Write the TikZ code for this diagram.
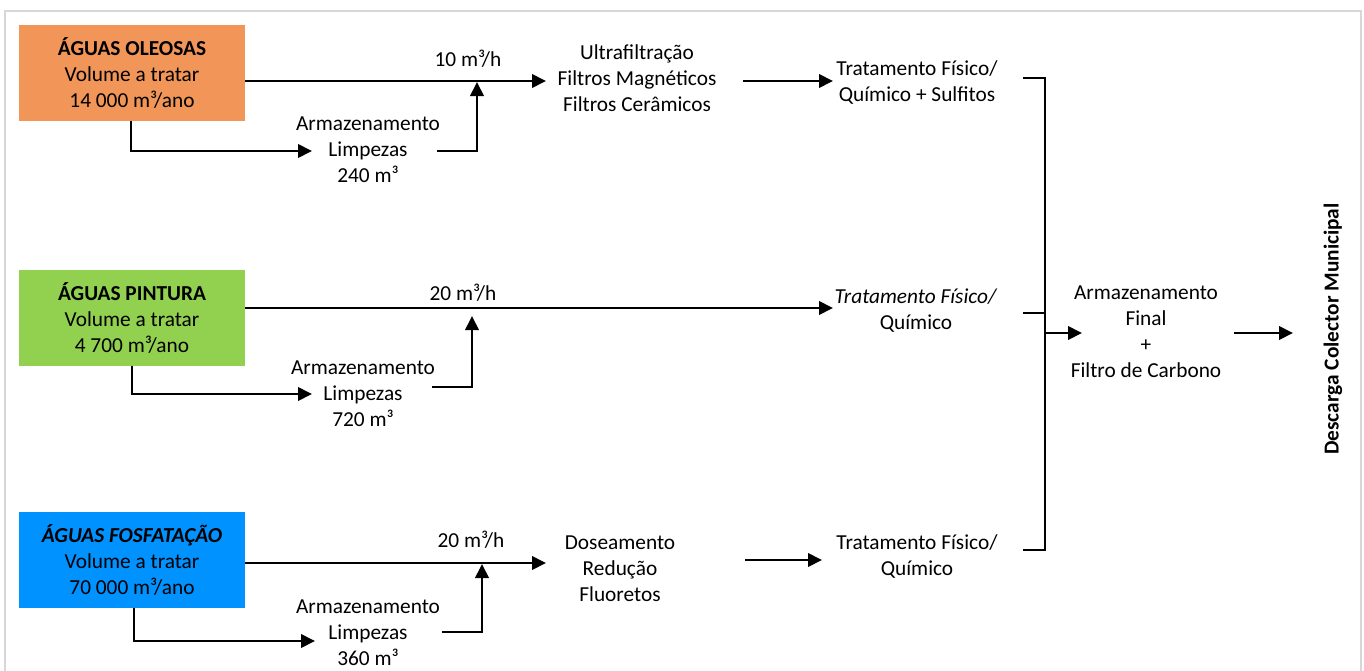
\documentclass[tikz,border=0pt]{standalone}
\usepackage{fontspec}
\setmainfont{Carlito}
\usetikzlibrary{arrows.meta}
\definecolor{oilC}{RGB}{241,150,88}
\definecolor{paintC}{RGB}{146,208,80}
\definecolor{phosC}{RGB}{0,146,255}
\definecolor{frameC}{RGB}{215,215,215}
\begin{document}
\begin{tikzpicture}[x=0.75pt,y=-0.75pt,
  every node/.style={font=\fontsize{16}{19.5}\selectfont, inner sep=0pt, align=center},
  src/.style={minimum width=169.5pt, minimum height=72pt},
  flow/.style={line width=2pt, -{Triangle[length=10.5pt,width=10pt]}},
  plain/.style={line width=2pt},
  frame/.style={draw=frameC, line width=2pt}]
\useasboundingbox (0,0) rectangle (1364,671);
\draw[frame] (5,680) -- (5,11) -- (1361,11) -- (1361,680);

% ---------- sources ----------
\node[src, fill=oilC] (o1) at (132,73) {\textbf{ÁGUAS OLEOSAS}\\Volume a tratar\\14 000 m³/ano};
\node[src, fill=paintC] (o2) at (132,317.5) {\textbf{ÁGUAS PINTURA}\\Volume a tratar\\4 700 m³/ano};
\node[src, fill=phosC] (o3) at (132,560) {\textbf{\textit{ÁGUAS FOSFATAÇÃO}}\\Volume a tratar\\70 000 m³/ano};

% ---------- text nodes ----------
\node (r1) at (468,59) {10 m³/h};
\node (r2) at (463,293) {20 m³/h};
\node (r3) at (471,540) {20 m³/h};
\node (s1) at (368,150) {Armazenamento\\Limpezas\\240 m³};
\node (s2) at (363,394) {Armazenamento\\Limpezas\\720 m³};
\node (s3) at (368,633) {Armazenamento\\Limpezas\\360 m³};
\node (uf) at (637,78) {Ultrafiltração\\Filtros Magnéticos\\Filtros Cerâmicos};
\node (ds) at (620,569) {Doseamento\\Redução\\Fluoretos};
\node (t1) at (917,83) {Tratamento Físico/\\Químico + Sulfitos};
\node (t2) at (916,311) {\textit{Tratamento Físico/}\\Químico};
\node (t3) at (917,556) {Tratamento Físico/\\Químico};
\node (fin) at (1146,332) {Armazenamento\\Final\\+\\Filtro de Carbono};
\node[rotate=90] (dc) at (1333,329) {\bfseries Descarga Colector Municipal};

% ---------- coordinates ----------
\coordinate (a1) at (546,81);
\coordinate (a2) at (833,308);
\coordinate (a3) at (546,563);
\coordinate (b1) at (131,151);  \coordinate (b1e) at (312,151);
\coordinate (b2) at (132,394);  \coordinate (b2e) at (312,394);
\coordinate (b3) at (134,641);  \coordinate (b3e) at (315,641);
\coordinate (s1o) at (437,151); \coordinate (j1) at (477,82);
\coordinate (s2o) at (432,387); \coordinate (j2) at (472,316);
\coordinate (s3o) at (442,632); \coordinate (j3) at (482,564);
\coordinate (u1o) at (743,81);  \coordinate (t1i) at (833,81);
\coordinate (d3o) at (745,560); \coordinate (t3i) at (822,560);
\coordinate (t1o) at (1023,78); \coordinate (br1) at (1045,78);
\coordinate (t2o) at (1023,313); \coordinate (br2) at (1045,313);
\coordinate (t3o) at (1023,550); \coordinate (br3) at (1045,550);
\coordinate (fi) at (1082,333); \coordinate (fo) at (1234,333);
\coordinate (de) at (1293,333);

% ---------- connectors ----------
\draw[flow] (o1.east |- a1) -- (a1);
\draw[flow] (o2.east |- a2) -- (a2);
\draw[flow] (o3.east |- a3) -- (a3);
\draw[flow] (o1.south -| b1) -- (b1) -- (b1e);
\draw[flow] (o2.south -| b2) -- (b2) -- (b2e);
\draw[flow] (o3.south -| b3) -- (b3) -- (b3e);
\draw[flow] (s1o) -| (j1);
\draw[flow] (s2o) -| (j2);
\draw[flow] (s3o) -| (j3);
\draw[flow] (u1o) -- (t1i);
\draw[flow] (d3o) -- (t3i);
\draw[plain] (t1o) -- (br1) -- (br3) -- (t3o);
\draw[plain] (t2o) -- (br2);
\draw[flow] (br2 |- fi) -- (fi);
\draw[flow] (fo) -- (de);
\end{tikzpicture}
\end{document}
